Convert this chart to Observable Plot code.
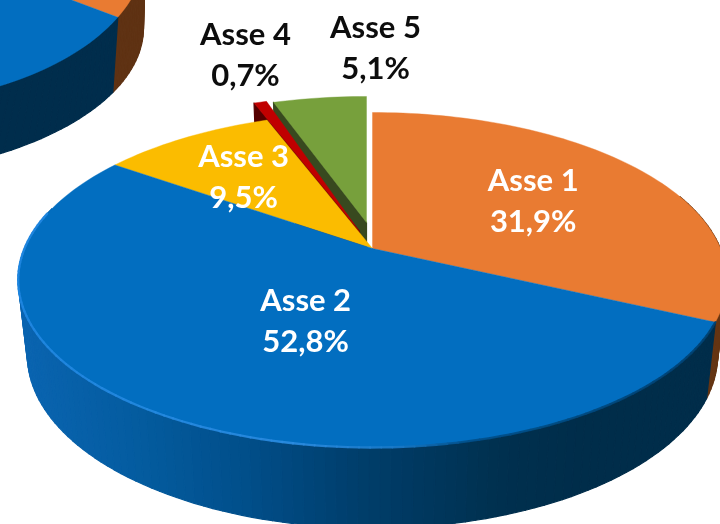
<!DOCTYPE html>
<html>
<head>
<meta charset="utf-8">
<style>html,body{margin:0;padding:0;background:#fff;overflow:hidden}svg{display:block}</style>
<script src="https://cdn.jsdelivr.net/npm/d3@7"></script>
<script src="https://cdn.jsdelivr.net/npm/@observablehq/plot@0.6"></script>
</head>
<body>
<div id="chart"></div>
<script>
// data
const categories = ["Asse 1", "Asse 2", "Asse 3", "Asse 4", "Asse 5"];
const shares = [31.9, 52.8, 9.5, 0.7, 5.1];
const shareLabels = ["31,9%", "52,8%", "9,5%", "0,7%", "5,1%"];
const faceColors = ["#e97b32", "#026ec0", "#fbbc00", "#c00000", "#77a03c"];
const wallColors = ["#653513", "#00304f", "#7a5c00", "#560000", "#38491f"];
// neighbouring pie, cropped at the top-left corner
const cropShares = [34.7, 65.3];
const cropFaces = ["#e97b32", "#026ec0"];
const cropWalls = ["#5f3213", "#002d4c"];

// layout of the pies (perspective disc: k = foreshortening)
const k = 0.188;
const mainPie = {ax: 372, ay: 248, R: 348, B: 161.6, ax2: 372, ay2: 322, R2: 339, B2: 167};
const cropPie = {ax: -140, ay: -79.4, R: 280, B: 150, ax2: -172.6, ay2: -1, R2: 310, B2: 145};
const explodeRim = [[0,0],[0,0],[0,0],[-13,-17],[-6,-16]];
const explodeApex = [[0,0],[0,0],[0,0],[-13,-17],[-6,-26]];
// label placement on the disc: angle in degrees clockwise from top, radius
const labelAngle = [57.7, 203, 319.9, 343, 0.4];
const labelRadius = [0.578, 0.453, 0.627, 1.61, 1.613];
const wallRamp = d3.scaleLinear()
  .domain([20, 130, 240, 350, 500, 580])
  .range(["#0a64b0", "#045ca0", "#014f8b", "#003f6d", "#00304f", "#002d4a"])
  .clamp(true);
const rimRamp = d3.scaleLinear()
  .domain([18, 300, 400, 470, 720])
  .range(["#1f86e0", "#2b8ce0", "#1a7ac8", "#01508a", "#01406f"])
  .clamp(true);

const rad = d => d * Math.PI / 180;
function topPt(p, deg, r = 1) {
  const X = r * Math.sin(rad(deg)), Y = r * Math.cos(rad(deg)), w = 1 + k * Y;
  return [p.ax + p.R * X / w, p.ay - p.B * Y / w];
}
function bottomPt(p, deg, r = 1) {
  const X = r * Math.sin(rad(deg)), Y = r * Math.cos(rad(deg)), w = 1 + k * Y;
  return [p.ax2 + p.R2 * X / w, p.ay2 - p.B2 * Y / w];
}
const wallRows = [], faceRows = [];
let pid = 0;
function poly(target, points, color) {
  const id = pid++;
  [...points, points[0]].forEach(([x, y]) => target.push({id, x, y, color}));
}
function arc(from, to) {
  const n = Math.max(2, Math.ceil(Math.abs(to - from) / 1.5));
  return d3.range(n + 1).map(i => from + (to - from) * i / n);
}
const shift = ([x, y], [dx, dy]) => [x + dx, y + dy];
function face(p, a0, a1, color, rimOff = [0,0], apexOff = [0,0]) {
  poly(faceRows, [shift(topPt(p, 0, 0), apexOff), ...arc(a0, a1).map(a => shift(topPt(p, a), rimOff))], color);
}
function angles(values) {
  let c = 0;
  const t = d3.sum(values);
  return values.map(v => { const a0 = c; c += v; return [a0 / t * 360, c / t * 360]; });
}
function outerWall(p, a0, a1, colorFn) {
  const as = arc(a0, a1);
  for (let i = 0; i < as.length - 1; i++) {
    const m = (as[i] + as[i + 1]) / 2;
    poly(wallRows, [topPt(p, as[i]), topPt(p, as[i + 1]), bottomPt(p, as[i + 1]), bottomPt(p, as[i])], colorFn(topPt(p, m)[0]));
  }
}

// cropped pie
const cropA = angles(cropShares);
outerWall(cropPie, 60, cropA[0][1], () => cropWalls[0]);
outerWall(cropPie, cropA[1][0], 270, () => cropWalls[1]);
face(cropPie, ...cropA[0], cropFaces[0]);
face(cropPie, ...cropA[1], cropFaces[1]);

// main pie: detached back slices, then the rest
const A = angles(shares);
for (const i of [4, 3]) {
  const [a0] = A[i];
  const rimT = shift(topPt(mainPie, a0), explodeRim[i]);
  const rimB = shift(bottomPt(mainPie, a0), explodeRim[i]);
  const apT = shift(topPt(mainPie, 0, 0), explodeApex[i]);
  const apB = shift(bottomPt(mainPie, 0, 0), explodeApex[i]);
  poly(wallRows, [rimT, rimB, apB, apT], wallColors[i]);
  face(mainPie, A[i][0], A[i][1], faceColors[i], explodeRim[i], explodeApex[i]);
}
face(mainPie, ...A[2], faceColors[2]);
outerWall(mainPie, 70, A[0][1], () => wallColors[0]);
outerWall(mainPie, A[1][0], 285, wallRamp);
face(mainPie, ...A[0], faceColors[0]);
face(mainPie, ...A[1], faceColors[1]);

// highlight along the front rim of the large slice
const rimRows = [];
const rimAngles = arc(A[1][0], 283);
rimAngles.slice(0, -1).forEach((a, i) => {
  const color = rimRamp(topPt(mainPie, a)[0]);
  [a, rimAngles[i + 1]].forEach(b => {
    const [x, y] = topPt(mainPie, b);
    rimRows.push({id: i, x, y, color});
  });
});

const labels = categories.map((c, i) => {
  const [x, y] = topPt(mainPie, labelAngle[i], labelRadius[i]);
  return {x, y, text: c + "\n" + shareLabels[i], color: (i === 3 || i === 4) ? "#0d0d0d" : "#ffffff"};
});

const chart = Plot.plot({
  width: 720,
  height: 524,
  margin: 0,
  x: {domain: [0, 720], range: [0, 720], axis: null},
  y: {domain: [0, 524], range: [0, 524], axis: null},
  color: {type: "identity"},
  marks: [
    Plot.line(wallRows, {x: "x", y: "y", z: "id", fill: "color", stroke: "color", strokeWidth: 1.2, curve: "linear", imageFilter: "blur(0.5px)"}),
    Plot.line(faceRows, {x: "x", y: "y", z: "id", fill: "color", stroke: "color", strokeWidth: 0.4, curve: "linear", imageFilter: "blur(0.5px)"}),
    Plot.line(rimRows, {x: "x", y: "y", z: "id", stroke: "color", strokeWidth: 2.3, strokeOpacity: 0.9, curve: "linear", imageFilter: "blur(0.7px)"}),
    Plot.text(labels, {x: "x", y: "y", dy: -3, text: "text", fill: "color", fontFamily: "Lato", fontWeight: 700, fontSize: 31, lineHeight: 1.33, textAnchor: "middle", imageFilter: "blur(0.3px)"})
  ]
});
document.getElementById("chart").appendChild(chart);
</script>
</body>
</html>
